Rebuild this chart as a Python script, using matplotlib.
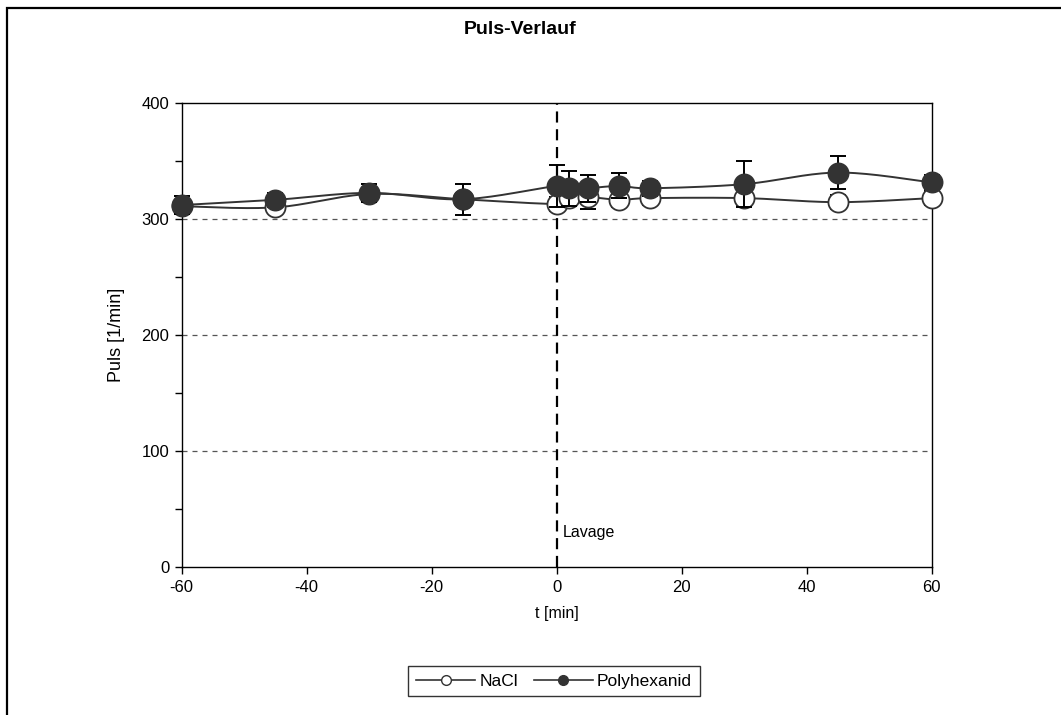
import numpy as np
import matplotlib
matplotlib.use("Agg")
import matplotlib.pyplot as plt
from matplotlib.patches import Rectangle

plt.rcParams['font.family'] = ['Liberation Sans', 'DejaVu Sans']
plt.rcParams['axes.unicode_minus'] = False

# Zeitpunkte (min) und Mittelwerte
t = [-60, -45, -30, -15, 0, 2, 5, 10, 15, 30, 45, 60]
nacl = [311, 310, 321.5, 317, 313, 318, 319, 316.5, 318, 318, 314.5, 318]
nacl_err = [5, 5, 5, 5, 6, 7, 10, 6, 6, 7, 6, 6]
polyhex = [312, 316.5, 322.5, 317, 328.5, 326.5, 326.5, 328.5, 326.5, 330, 340, 331.5]
polyhex_err = [8, 6, 8, 13.5, 18, 15, 11.6, 10.7, 6.6, 20, 14.5, 6]


def smooth(x, y, n=30):
    # Catmull-Rom wie die "geglaettete Linie" in Excel
    x = np.asarray(x, float)
    y = np.asarray(y, float)
    px = np.concatenate([[x[0]], x, [x[-1]]])
    py = np.concatenate([[y[0]], y, [y[-1]]])
    xs, ys = [], []
    s = np.linspace(0, 1, n)
    for i in range(1, len(px) - 2):
        p0x, p1x, p2x, p3x = px[i - 1:i + 3]
        p0y, p1y, p2y, p3y = py[i - 1:i + 3]
        c1x = p1x + (p2x - p0x) / 6
        c1y = p1y + (p2y - p0y) / 6
        c2x = p2x - (p3x - p1x) / 6
        c2y = p2y - (p3y - p1y) / 6
        bx = (1 - s) ** 3 * p1x + 3 * (1 - s) ** 2 * s * c1x + 3 * (1 - s) * s ** 2 * c2x + s ** 3 * p2x
        by = (1 - s) ** 3 * p1y + 3 * (1 - s) ** 2 * s * c1y + 3 * (1 - s) * s ** 2 * c2y + s ** 3 * p2y
        xs.extend(bx)
        ys.extend(by)
    return xs, ys


fig = plt.figure(figsize=(10.61, 7.15), dpi=100)
ax = fig.add_axes([181.7 / 1061, 1 - 567.3 / 715, 750 / 1061, (567.3 - 102.9) / 715])

# Rahmen um die ganze Grafik
fig.patches.append(Rectangle((7 / 1061, -0.1), 1.2, 1.1 - 8 / 715, transform=fig.transFigure,
                             fill=False, edgecolor='black', linewidth=1.6, zorder=0))

lc = '#333333'
for yy in [100, 200, 300]:
    ax.axhline(yy, color='#555555', linestyle=(0, (4, 4)), linewidth=0.9, zorder=1)
ax.axvline(0, color='black', linestyle=(0, (5, 3)), linewidth=1.6, zorder=2)

sx, sy = smooth(t, nacl)
ax.plot(sx, sy, color=lc, linewidth=1.4, zorder=3, clip_on=False)
ax.errorbar(t, nacl, yerr=nacl_err, fmt='none', ecolor='black', elinewidth=1.4, capsize=5.5,
            capthick=1.4, zorder=3, clip_on=False)
ax.plot(t, nacl, linestyle='none', marker='o', markersize=14.5, markerfacecolor='white',
        markeredgecolor=lc, markeredgewidth=1.3, zorder=4, clip_on=False)

sx, sy = smooth(t, polyhex)
ax.plot(sx, sy, color=lc, linewidth=1.4, zorder=5, clip_on=False)
ax.errorbar(t, polyhex, yerr=polyhex_err, fmt='none', ecolor='black', elinewidth=1.4, capsize=5.5,
            capthick=1.4, zorder=5, clip_on=False)
ax.plot(t, polyhex, linestyle='none', marker='o', markersize=14.5, markerfacecolor=lc,
        markeredgecolor=lc, markeredgewidth=1.3, zorder=6, clip_on=False)

# Legende
h1, = ax.plot([], [], color=lc, marker='o', markersize=7, markerfacecolor='white',
              markeredgecolor=lc, linewidth=1.2)
h2, = ax.plot([], [], color=lc, marker='o', markersize=7, markerfacecolor=lc,
              markeredgecolor=lc, linewidth=1.2)
leg = fig.legend([h1, h2], ['NaCl', 'Polyhexanid'], loc='center', bbox_to_anchor=(554 / 1061, 1 - 681 / 715),
                 ncol=2, frameon=True, fancybox=False, fontsize=12.5, handlelength=3.4,
                 columnspacing=0.9, handletextpad=0.25, borderpad=0.45, borderaxespad=0)
leg.get_frame().set_edgecolor('black')
leg.get_frame().set_linewidth(1.0)

ax.text(1.0, 30, 'Lavage', fontsize=11.5, ha='left', va='center')

ax.set_xlim(-60, 60)
ax.set_ylim(0, 400)
ax.set_xticks([-60, -40, -20, 0, 20, 40, 60])
ax.set_yticks([0, 100, 200, 300, 400])
ax.set_yticks([50, 150, 250, 350], minor=True)
ax.tick_params(axis='both', direction='out', length=5, width=1, labelsize=12, pad=4)
ax.tick_params(axis='y', which='minor', direction='out', length=5, width=1)
for sp in ax.spines.values():
    sp.set_linewidth(1.0)

ax.set_xlabel('t [min]', fontsize=11.5, labelpad=8)
ax.set_ylabel('Puls [1/min]', fontsize=13, labelpad=12)
fig.text(520 / 1061, 1 - 30 / 715, 'Puls-Verlauf', fontsize=14, fontweight='bold', ha='center', va='center')

fig.savefig('out.png', dpi=100)
